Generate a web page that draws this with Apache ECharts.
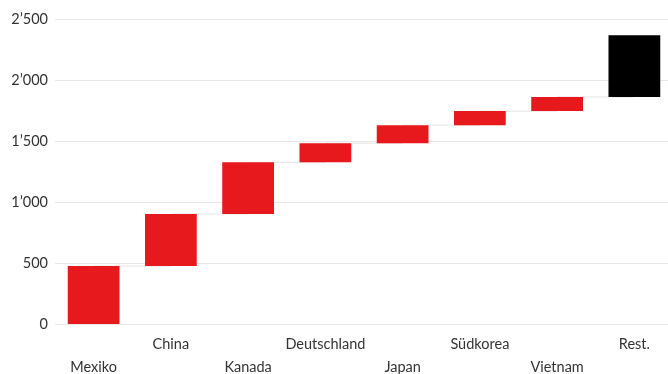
<!DOCTYPE html>
<html><head><meta charset="utf-8">
<script src="https://cdn.jsdelivr.net/npm/echarts@6/dist/echarts.min.js"></script>
<style>html,body{margin:0;padding:0;background:#fff}#c{width:668px;height:374px}</style>
</head><body><div id="c"></div>
<script>
const categories = ['Mexiko','China','Kanada','Deutschland','Japan','Südkorea','Vietnam','Rest.'];
const values = [475, 427, 423, 157, 148, 115, 116, 505];
const yTicks = [0, 500, 1000, 1500, 2000, 2500];

const bases = [];
let cum = 0;
values.forEach(v => { bases.push(cum); cum += v; });
const tops = values.map((v, i) => bases[i] + v);
const connectorData = tops.slice(0, -1).map((t, i) => [i, t]);

const fmt = v => String(v).replace(/\B(?=(\d{3})+(?!\d))/g, '\u2019');
const FONT = 'Lato';

const chart = echarts.init(document.getElementById('c'));
chart.setOption({
  animation: false,
  grid: {left: 55, right: -5, top: 19, bottom: 50, containLabel: false, outerBoundsMode: 'none'},
  xAxis: {
    type: 'category', data: categories,
    axisLine: {show: false}, axisTick: {show: false},
    axisLabel: {
      interval: 0, margin: 9, color: '#333', fontFamily: FONT, fontSize: 14.5, lineHeight: 23,
      formatter: (v, i) => (i % 2 === 0 ? '\n' + v : v)
    }
  },
  yAxis: {
    type: 'value', min: yTicks[0], max: yTicks[yTicks.length - 1], interval: 500,
    axisLine: {show: false}, axisTick: {show: false},
    axisLabel: {margin: 7, color: '#333', fontFamily: FONT, fontSize: 14.5, formatter: fmt},
    splitLine: {lineStyle: {color: '#e8e8e8', width: 1}}
  },
  series: [
    {
      type: 'custom', z: 1, silent: true,
      data: connectorData,
      encode: {x: 0, y: 1},
      renderItem: (params, api) => {
        const i = api.value(0), t = api.value(1);
        const p1 = api.coord([i, t]);
        const p2 = api.coord([i + 1, t]);
        return {
          type: 'line',
          shape: {x1: p1[0], y1: p1[1], x2: p2[0], y2: p2[1]},
          style: {stroke: '#e4e4e4', lineWidth: 1}
        };
      }
    },
    {
      type: 'bar', stack: 'w', data: bases, barWidth: '67%',
      itemStyle: {color: 'transparent'}, silent: true, z: 2
    },
    {
      type: 'bar', stack: 'w', barWidth: '67%', z: 3,
      data: values.map((v, i) => ({
        value: v,
        itemStyle: {color: i === values.length - 1 ? '#000000' : '#e8191c'}
      }))
    }
  ]
});
</script></body></html>
